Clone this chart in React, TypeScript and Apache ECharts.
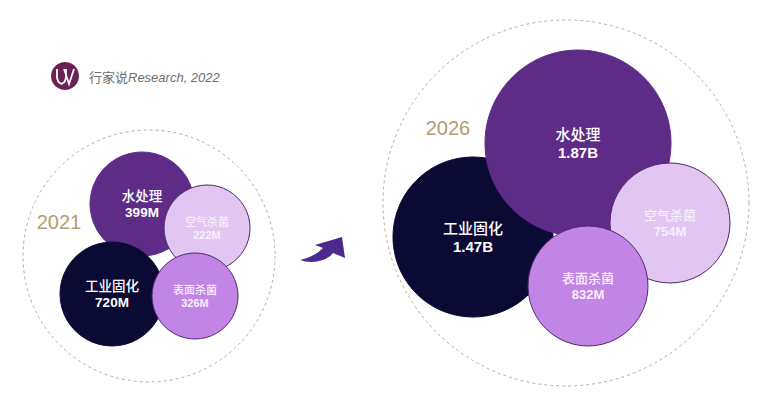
import React, { useEffect, useRef } from 'react';
import * as echarts from 'echarts';

// ---- data ----
const categories = ['水处理', '空气杀菌', '工业固化', '表面杀菌'];
const years = ['2021', '2026'];
const values2021 = [399, 222, 720, 326]; // millions
const values2026 = [1870, 754, 1470, 832]; // millions
const sourcePrefix = '行家说';
const sourceSuffix = 'Research, 2022';

// ---- layout & style (not data) ----
const W = 760;
const H = 398;
const FONT = '"Liberation Sans", Arial, "Noto Sans CJK SC", sans-serif';
const frames = [
  { cx: 149, cy: 256, r: 126, yearX: 59, yearY: 222 },
  { cx: 566, cy: 203, r: 183, yearX: 448, yearY: 128 },
];
// [cx, cy, radius, fontSize] per category
const layout2021 = [
  [142, 204, 52, 13.5],
  [207, 228, 43, 11],
  [112, 294, 52, 13.5],
  [195, 296, 43, 11],
];
const layout2026 = [
  [578, 143, 93, 15],
  [670, 223, 60, 13],
  [473, 237, 80, 15],
  [588, 286, 60, 13],
];
const order2021 = [0, 2, 1, 3];
const order2026 = [2, 0, 1, 3];
const fills = ['#5e2c86', '#e1c6f1', '#0b0a35', '#c285e5'];
const borders = ['#5e2c86', '#4b2a72', '#0b0a35', '#4b2a72'];
const textColors = ['#ffffff', '#f7effb', '#ffffff', '#f7effb'];

const fmt = (v: number) => (v >= 1000 ? (v / 1000).toFixed(2) + 'B' : v + 'M');

function bubbleData(values: number[], layout: number[][], order: number[]) {
  return order.map((i) => {
    const [x, y, r, fs] = layout[i];
    return {
      name: categories[i],
      value: [x, y, values[i]],
      symbolSize: r * 2,
      itemStyle: { color: fills[i], borderColor: borders[i], borderWidth: 1, opacity: 1 },
      label: {
        show: true,
        position: 'inside',
        formatter: '{n|' + categories[i] + '}\n{v|' + fmt(values[i]) + '}',
        rich: {
          n: { fontSize: fs, lineHeight: Math.round(fs * 1.22), color: textColors[i], fontFamily: FONT, fontWeight: 500 },
          v: { fontSize: fs, lineHeight: Math.round(fs * 1.22), color: textColors[i], fontFamily: FONT, fontWeight: 'bold' },
        },
      },
    };
  });
}

const arrowPath =
  'M0,25 C10,29 26,27 33,18 L45,23 L42,2 L15,10 L23,13 C16,20 8,23 0,25 Z';
echarts.graphic.registerShape('curvedArrow', echarts.graphic.extendPath(arrowPath, {}));

export default function App() {
  const ref = useRef<HTMLDivElement>(null);
  useEffect(() => {
    if (!ref.current) return;
    const chart = echarts.init(ref.current, undefined, { renderer: 'svg' });
    const option: any = {
      animation: false,
      backgroundColor: '#ffffff',
      grid: { left: 0, right: 0, top: 0, bottom: 0 },
      xAxis: { type: 'value', min: 0, max: W, show: false },
      yAxis: { type: 'value', min: 0, max: H, inverse: true, show: false },
      series: [
        {
          type: 'scatter',
          silent: true,
          z: 1,
          data: frames.map((f, i) => ({
            name: years[i],
            value: [f.cx, f.cy],
            symbolSize: f.r * 2,
          })),
          itemStyle: {
            color: 'rgba(0,0,0,0)',
            borderColor: '#bcae96',
            borderWidth: 1,
            borderType: [3, 3],
            opacity: 1,
          },
        },
        {
          type: 'scatter',
          z: 2,
          itemStyle: { opacity: 1 },
          data: bubbleData(values2021, layout2021, order2021),
        },
        {
          type: 'scatter',
          z: 3,
          itemStyle: { opacity: 1 },
          data: bubbleData(values2026, layout2026, order2026),
        },
      ],
      graphic: [
        ...frames.map((f, i) => ({
          type: 'text',
          x: f.yearX,
          y: f.yearY,
          style: {
            text: years[i],
            fill: '#b69c6e',
            font: '20px ' + FONT,
            textAlign: 'center',
            textVerticalAlign: 'middle',
          },
        })),
        { type: 'circle', shape: { cx: 65, cy: 76, r: 14 }, style: { fill: '#6a2256' } },
        {
          type: 'polyline',
          shape: { points: [[57, 69], [57, 78], [58.5, 82], [61.5, 84], [64.5, 82], [66, 78], [66, 69]] },
          style: { stroke: '#ffffff', lineWidth: 1.8, fill: null },
        },
        {
          type: 'polyline',
          shape: { points: [[64, 69], [69, 84], [74, 69]] },
          style: { stroke: '#ffffff', lineWidth: 1.8, fill: null },
        },
        {
          type: 'text',
          x: 89,
          y: 77,
          style: {
            text: '{a|' + sourcePrefix + '}{b|' + sourceSuffix + '}',
            textVerticalAlign: 'middle',
            rich: {
              a: { fontSize: 13, fill: '#6e6e6e', color: '#6e6e6e', fontFamily: FONT },
              b: { fontSize: 13, fill: '#6e6e6e', color: '#6e6e6e', fontFamily: FONT, fontStyle: 'italic' },
            },
          },
        },
        {
          type: 'curvedArrow',
          x: 300,
          y: 235,
          style: { fill: '#4c2a8c' },
        },
      ],
    };
    chart.setOption(option);
    return () => chart.dispose();
  }, []);
  return (
    <div
      ref={ref}
      style={{ position: 'fixed', left: 0, top: 0, width: W, height: H, background: '#fff' }}
    />
  );
}
